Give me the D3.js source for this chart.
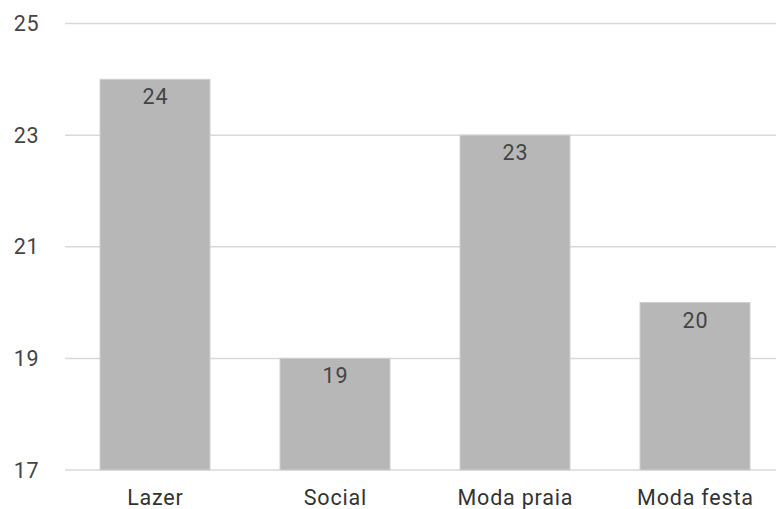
<!DOCTYPE html>
<html>
<head>
<meta charset="utf-8">
<script src="https://cdn.jsdelivr.net/npm/d3@7"></script>
<style>
  html, body { margin: 0; padding: 0; background: #fff; }
  svg { display: block; font-family: Roboto, Arial, sans-serif; }
</style>
</head>
<body>
<svg id="chart" width="776" height="509"></svg>
<script>
// Categories and values
const categories = ["Lazer", "Social", "Moda praia", "Moda festa"];
const values = [24, 19, 23, 20];
const yTicks = [17, 19, 21, 23, 25];

const svg = d3.select("#chart");

const x = d3.scaleBand()
  .domain(categories)
  .range([65, 785])
  .paddingInner(0.389)
  .paddingOuter(0.1945);

const y = d3.scaleLinear()
  .domain([17, 25])
  .range([470, 23.5]);

const fontSize = 21.5;
const tracking = 0.8;

// Gridlines
svg.append("g")
  .selectAll("line")
  .data(yTicks)
  .join("line")
  .attr("x1", 65)
  .attr("x2", 776)
  .attr("y1", d => y(d))
  .attr("y2", d => y(d))
  .attr("stroke", "#d9d9d9")
  .attr("stroke-width", 1.5);

// Y axis labels
svg.append("g")
  .selectAll("text")
  .data(yTicks)
  .join("text")
  .attr("x", 39.5)
  .attr("y", d => y(d))
  .attr("dy", "0.36em")
  .attr("text-anchor", "end")
  .attr("font-size", fontSize)
  .attr("letter-spacing", tracking)
  .attr("fill", "#444")
  .text(d => d);

// Bars
const data = categories.map((c, i) => ({ c, v: values[i] }));

svg.append("g")
  .selectAll("rect")
  .data(data)
  .join("rect")
  .attr("x", d => x(d.c))
  .attr("y", d => y(d.v))
  .attr("width", x.bandwidth())
  .attr("height", d => y(17) - y(d.v))
  .attr("fill", "#b7b7b7")
  .attr("stroke", "#cfcfcf")
  .attr("stroke-width", 1);

// Value labels inside the bar tops
svg.append("g")
  .selectAll("text")
  .data(data)
  .join("text")
  .attr("x", d => x(d.c) + x.bandwidth() / 2 + tracking / 2)
  .attr("y", d => y(d.v) + 25)
  .attr("text-anchor", "middle")
  .attr("font-size", fontSize)
  .attr("letter-spacing", tracking)
  .attr("fill", "#444")
  .text(d => d.v);

// Category labels
svg.append("g")
  .selectAll("text")
  .data(categories)
  .join("text")
  .attr("x", d => x(d) + x.bandwidth() / 2 + tracking / 2)
  .attr("y", 505)
  .attr("text-anchor", "middle")
  .attr("font-size", fontSize)
  .attr("letter-spacing", tracking)
  .attr("fill", "#333")
  .text(d => d);
</script>
</body>
</html>
